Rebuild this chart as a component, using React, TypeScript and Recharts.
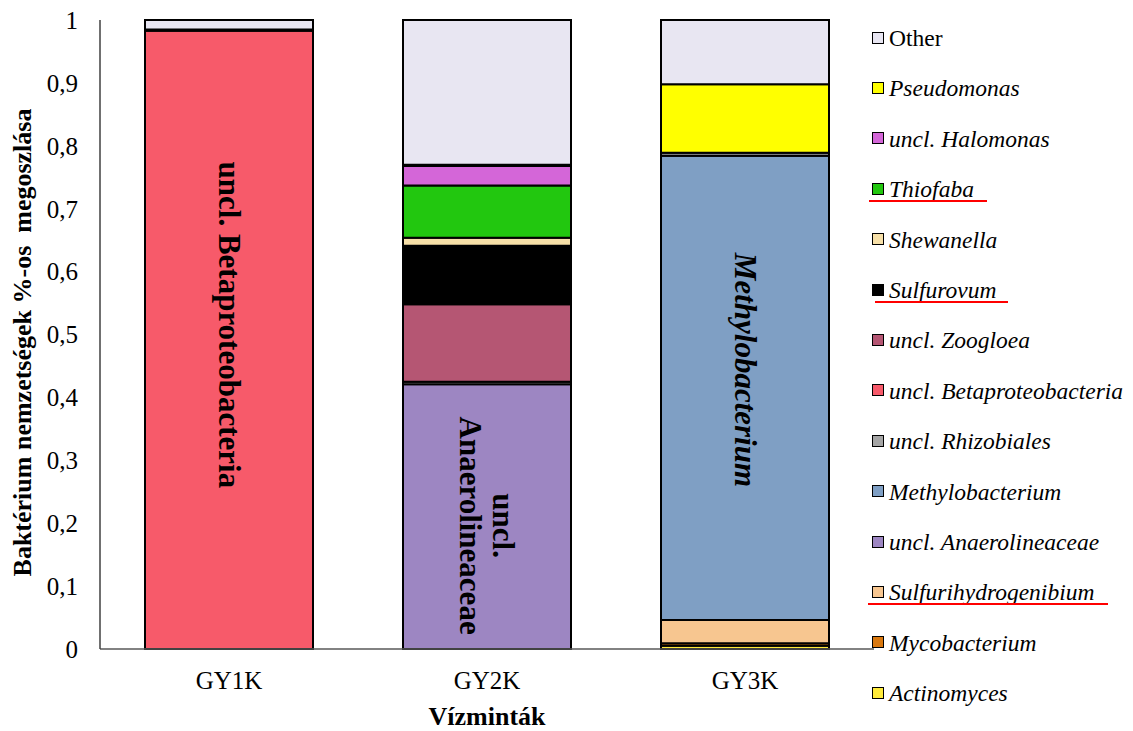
import { BarChart, Bar, XAxis, YAxis, LabelList } from 'recharts'

const categories = ['GY1K', 'GY2K', 'GY3K']
const actinomyces = [0, 0, 0.005]
const mycobacterium = [0, 0, 0.004]
const sulfurihydrogenibium = [0, 0, 0.037]
const anaerolineaceae = [0, 0.421, 0]
const methylobacterium = [0, 0, 0.738]
const rhizobiales = [0, 0.004, 0.005]
const betaproteobacteria = [0.983, 0, 0]
const zoogloea = [0.002, 0.123, 0]
const sulfurovum = [0, 0.093, 0]
const shewanella = [0, 0.013, 0]
const thiofaba = [0, 0.083, 0]
const halomonas = [0, 0.031, 0]
const pseudomonas = [0, 0.002, 0.109]
const other = [0.015, 0.23, 0.102]

const yTicks = [0, 0.1, 0.2, 0.3, 0.4, 0.5, 0.6, 0.7, 0.8, 0.9, 1]

// labels written inside the big segments, one per category
const barLabels = [['uncl. Betaproteobacteria'], ['uncl.', 'Anaerolineaceae'], ['Methylobacterium']]
const labelSeries = ['betaproteobacteria', 'anaerolineaceae', 'methylobacterium']

// bottom to top stacking order
const series = [
  { key: 'actinomyces', name: 'Actinomyces', values: actinomyces, color: '#FFEB3B', italic: true },
  { key: 'mycobacterium', name: 'Mycobacterium', values: mycobacterium, color: '#D9780F', italic: true },
  { key: 'sulfurihydrogenibium', name: 'Sulfurihydrogenibium', values: sulfurihydrogenibium, color: '#F7C690', italic: true },
  { key: 'anaerolineaceae', name: 'uncl. Anaerolineaceae', values: anaerolineaceae, color: '#9D86C2', italic: true },
  { key: 'methylobacterium', name: 'Methylobacterium', values: methylobacterium, color: '#7F9FC4', italic: true },
  { key: 'rhizobiales', name: 'uncl. Rhizobiales', values: rhizobiales, color: '#A5A5A5', italic: true },
  { key: 'betaproteobacteria', name: 'uncl. Betaproteobacteria', values: betaproteobacteria, color: '#F75A6A', italic: true },
  { key: 'zoogloea', name: 'uncl. Zoogloea', values: zoogloea, color: '#B55673', italic: true },
  { key: 'sulfurovum', name: 'Sulfurovum', values: sulfurovum, color: '#000000', italic: true },
  { key: 'shewanella', name: 'Shewanella', values: shewanella, color: '#F7E0A8', italic: true },
  { key: 'thiofaba', name: 'Thiofaba', values: thiofaba, color: '#22C70F', italic: true },
  { key: 'halomonas', name: 'uncl. Halomonas', values: halomonas, color: '#D466D8', italic: true },
  { key: 'pseudomonas', name: 'Pseudomonas', values: pseudomonas, color: '#FFFF00', italic: true },
  { key: 'other', name: 'Other', values: other, color: '#E8E6F2', italic: false },
]

const underlined: Record<string, { left: number; width: number }> = {
  thiofaba: { left: 869, width: 118 },
  sulfurovum: { left: 875, width: 133 },
  sulfurihydrogenibium: { left: 868, width: 240 },
}

const chartData = categories.map((c, i) => {
  const row: Record<string, string | number> = { name: c }
  series.forEach((s) => (row[s.key] = s.values[i]))
  return row
})

const FONT = '"Liberation Serif", "Times New Roman", serif'
const labelShift = [-15, 9, -18]

const fmt = (v: number) => (v === 0 ? '0' : v === 1 ? '1' : v.toFixed(1).replace('.', ','))

function makeBarLabel(seriesKey: string) {
  const idx = labelSeries.indexOf(seriesKey)
  return (props: any) => {
    const vb = props.viewBox ?? props
    if (!vb || !(vb.height > 50)) return null
    const cx = vb.x + vb.width / 2
    const cy = vb.y + vb.height / 2 + labelShift[idx]
    const lines = barLabels[idx]
    const gap = 33
    return (
      <g>
        {lines.map((t, j) => {
          const lx = cx + ((lines.length - 1) / 2 - j) * gap
          return (
            <text
              key={j}
              x={lx}
              y={cy}
              transform={`rotate(90, ${lx}, ${cy})`}
              textAnchor="middle"
              dominantBaseline="central"
              fontFamily={FONT}
              fontSize={31}
              fontWeight="bold"
              fontStyle={idx === 2 ? 'italic' : 'normal'}
              fill="#000"
            >
              {t}
            </text>
          )
        })}
      </g>
    )
  }
}

const yTitle = (props: any) => {
  const vb = props.viewBox
  const cx = 22
  const cy = vb.y + vb.height / 2 + 8
  return (
    <text
      x={cx}
      y={cy}
      transform={`rotate(-90, ${cx}, ${cy})`}
      textAnchor="middle"
      dominantBaseline="central"
      fontFamily={FONT}
      fontSize={26}
      fontWeight="bold"
      fill="#000"
      style={{ whiteSpace: 'pre' }}
    >
      {'Baktérium nemzetségek %-os  megoszlása'}
    </text>
  )
}

const xTitle = (props: any) => {
  const vb = props.viewBox
  return (
    <text x={vb.x + vb.width / 2} y={725} textAnchor="middle" fontFamily={FONT} fontSize={26} fontWeight="bold" fill="#000">
      Vízminták
    </text>
  )
}

export default function App() {
  const legendItems = [...series].reverse()
  return (
    <div style={{ position: 'relative', width: 1133, height: 731, background: '#fff' }}>
      <style>{'body { margin: 0; }'}</style>
      <BarChart
        width={1133}
        height={731}
        data={chartData}
        margin={{ top: 20, right: 259, bottom: 0, left: 0 }}
        barSize={168}
      >
        <XAxis
          dataKey="name"
          height={82}
          tickLine={false}
          tickSize={0}
          tickMargin={22}
          stroke="#595959"
          strokeWidth={1.5}
          tick={{ fill: '#000', fontSize: 25, fontFamily: FONT }}
          label={{ content: xTitle }}
        />
        <YAxis
          width={100}
          domain={[0, 1]}
          ticks={yTicks}
          tickFormatter={fmt}
          tickLine={false}
          tickSize={0}
          tickMargin={22}
          stroke="#404040"
          strokeWidth={1.5}
          tick={{ fill: '#000', fontSize: 25, fontFamily: FONT }}
          label={{ content: yTitle }}
        />
        {series.map((s) => (
          <Bar
            key={s.key}
            dataKey={s.key}
            name={s.name}
            stackId="a"
            fill={s.color}
            stroke="#000"
            strokeWidth={2}
            isAnimationActive={false}
          >
            {labelSeries.includes(s.key) && <LabelList dataKey={s.key} content={makeBarLabel(s.key)} />}
          </Bar>
        ))}
      </BarChart>
      {legendItems.map((s, i) => {
        const cy = 38 + i * 50.4
        const u = underlined[s.key]
        return (
          <div key={s.key}>
            <div
              style={{
                position: 'absolute',
                left: 872,
                top: cy - 6.5,
                width: 10,
                height: 10,
                background: s.color,
                border: '1.5px solid #000',
              }}
            />
            <div
              style={{
                position: 'absolute',
                left: 889,
                top: cy - 14,
                height: 28,
                lineHeight: '28px',
                fontFamily: FONT,
                fontSize: 23.5,
                fontStyle: s.italic ? 'italic' : 'normal',
                color: '#000',
                whiteSpace: 'nowrap',
              }}
            >
              {s.name}
            </div>
            {u && (
              <div
                style={{
                  position: 'absolute',
                  left: u.left,
                  top: cy + 11,
                  width: u.width,
                  height: 2,
                  background: '#FF0000',
                }}
              />
            )}
          </div>
        )
      })}
    </div>
  )
}
